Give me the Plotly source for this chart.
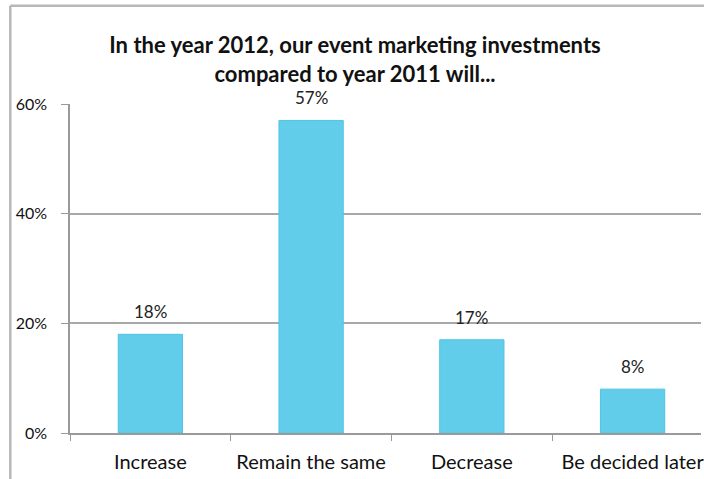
import plotly.graph_objects as go

# Survey answers and their shares (in %)
categories = ["Increase", "Remain the same", "Decrease", "Be decided later"]
shares = [18, 57, 17, 8]
y_ticks = [0, 20, 40, 60]
y_tick_labels = [f"{v}%" for v in y_ticks]

FONT = "Lato"
W, H = 704, 479
L, R, T, B = 70, 0, 103.5, 46

fig = go.Figure()
fig.add_trace(go.Bar(
    x=categories,
    y=shares,
    width=0.4,
    marker=dict(color="#62cdea", line=dict(color="#4fc3e3", width=1)),
    hoverinfo="x+y",
))

# value labels above each bar
for c, v in zip(categories, shares):
    fig.add_annotation(
        x=c, y=v, text=f"{v}%", showarrow=False,
        yanchor="bottom", yshift=10,
        font=dict(family=FONT, size=17, color="#222"),
    )

# outer chart frame (left and top edges; the rest runs off the page)
pw, ph = W - L - R, H - T - B
fx = (10 - L) / pw
fy = (H - B - 5) / ph
frame = dict(color="#b8b8b8", width=2.5)
fig.add_shape(type="line", xref="paper", yref="paper",
              x0=fx, x1=fx, y0=-0.3, y1=fy, line=frame)
fig.add_shape(type="line", xref="paper", yref="paper",
              x0=fx, x1=1.1, y0=fy, y1=fy, line=frame)

fig.update_layout(
    width=W, height=H,
    margin=dict(l=L, r=R, t=T, b=B, pad=0),
    paper_bgcolor="white", plot_bgcolor="white",
    showlegend=False,
    title=dict(
        text="In the year 2012, our event marketing investments<br>compared to year 2011 will...",
        x=355 / W, xanchor="center", y=1 - 53 / H, yanchor="top",
        font=dict(family=FONT, size=22, color="#111", weight="bold"),
    ),
    xaxis=dict(
        range=[-0.5, -0.5 + pw / 161.5],
        showline=True, linecolor="#9a9a9a", linewidth=1.5,
        ticks="outside", tickson="boundaries", ticklen=6, tickcolor="#9a9a9a",
        showgrid=False,
        tickfont=dict(family=FONT, size=20, color="#111"),
        ticklabelstandoff=10,
    ),
    yaxis=dict(
        range=[0, 60], tickmode="array", tickvals=y_ticks, ticktext=y_tick_labels,
        showline=True, linecolor="#9a9a9a", linewidth=1.5,
        ticks="outside", ticklen=7, tickcolor="#9a9a9a",
        showgrid=True, gridcolor="#a8a8a8", gridwidth=1.5,
        zeroline=False,
        tickfont=dict(family=FONT, size=16, color="#111"),
        ticklabelstandoff=11,
    ),
)

fig.write_html("out.html")
